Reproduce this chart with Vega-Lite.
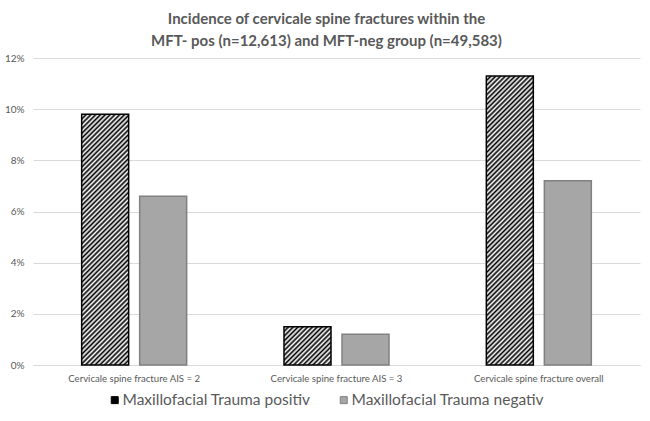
{
  "$schema": "https://vega.github.io/schema/vega-lite/v6.json",
  "autosize": "none",
  "width": 607,
  "height": 307,
  "padding": {"left": 33, "top": 58, "right": 10, "bottom": 56},
  "background": "white",
  "title": {
    "text": ["Incidence of cervicale spine fractures within the", "MFT- pos (n=12,613) and MFT-neg group (n=49,583)"],
    "font": "Lato", "fontSize": 15, "fontWeight": "bold", "color": "#595959",
    "anchor": "middle", "offset": 4, "lineHeight": 22, "dx": -10
  },
  "config": {"view": {"stroke": null}},
  "data": {"values": [
    {"cat": "Cervicale spine fracture AIS = 2", "group": "Maxillofacial Trauma positiv", "value": 0.098},
    {"cat": "Cervicale spine fracture AIS = 2", "group": "Maxillofacial Trauma negativ", "value": 0.066},
    {"cat": "Cervicale spine fracture AIS = 3", "group": "Maxillofacial Trauma positiv", "value": 0.015},
    {"cat": "Cervicale spine fracture AIS = 3", "group": "Maxillofacial Trauma negativ", "value": 0.012},
    {"cat": "Cervicale spine fracture overall", "group": "Maxillofacial Trauma positiv", "value": 0.113},
    {"cat": "Cervicale spine fracture overall", "group": "Maxillofacial Trauma negativ", "value": 0.072}
  ]},
  "mark": {"type": "bar", "strokeWidth": 1.5},
  "encoding": {
    "x": {"field": "cat", "type": "nominal", "sort": null,
      "scale": {"paddingInner": 0, "paddingOuter": 0},
      "axis": {"title": null, "labelAngle": 0, "ticks": false, "domain": true, "domainColor": "#d9d9d9",
        "labelFont": "Lato", "labelFontSize": 9.6, "labelColor": "#595959", "labelPadding": 8}},
    "xOffset": {"field": "group", "type": "nominal", "sort": ["Maxillofacial Trauma positiv", "Maxillofacial Trauma negativ"],
      "scale": {"paddingInner": 0.19, "paddingOuter": 0.839}},
    "y": {"field": "value", "type": "quantitative",
      "scale": {"domain": [0, 0.12], "nice": false},
      "axis": {"title": null, "format": ".0%", "values": [0, 0.02, 0.04, 0.06, 0.08, 0.1, 0.12],
        "domain": false, "ticks": false, "gridColor": "#d9d9d9", "gridWidth": 1,
        "labelFont": "Lato", "labelFontSize": 10, "labelColor": "#595959", "labelPadding": 9}},
    "stroke": {"field": "group", "type": "nominal",
      "scale": {"domain": ["Maxillofacial Trauma positiv", "Maxillofacial Trauma negativ"], "range": ["#000000", "#808080"]},
      "legend": null},
    "fill": {"field": "group", "type": "nominal",
      "scale": {"domain": ["Maxillofacial Trauma positiv", "Maxillofacial Trauma negativ"], "range": ["#000000", "#a6a6a6"]},
      "legend": {"orient": "none", "legendX": 74, "legendY": 334, "direction": "horizontal", "title": null,
        "symbolType": "square", "symbolSize": 49, "symbolStrokeColor": "#7f7f7f", "symbolStrokeWidth": 1,
        "labelFont": "Lato", "labelFontSize": 15.5, "labelColor": "#595959", "labelLimit": 400, "columnPadding": 25, "labelOffset": 0},
      "condition": [
        {"test": "datum.cat === 'Cervicale spine fracture AIS = 2' && datum.group === 'Maxillofacial Trauma positiv'",
         "value": {"gradient": "linear", "x1": 0, "y1": 0, "x2": 0.3468, "y2": 1.8497, "stops": [
{"offset":0,"color":"#000"},{"offset":0.005,"color":"#fff"},{"offset":0.01,"color":"#000"},{"offset":0.015,"color":"#fff"},{"offset":0.02,"color":"#000"},{"offset":0.025,"color":"#fff"},{"offset":0.03,"color":"#000"},{"offset":0.035,"color":"#fff"},{"offset":0.04,"color":"#000"},{"offset":0.045,"color":"#fff"},
{"offset":0.05,"color":"#000"},{"offset":0.055,"color":"#fff"},{"offset":0.06,"color":"#000"},{"offset":0.065,"color":"#fff"},{"offset":0.07,"color":"#000"},{"offset":0.075,"color":"#fff"},{"offset":0.08,"color":"#000"},{"offset":0.085,"color":"#fff"},{"offset":0.09,"color":"#000"},{"offset":0.095,"color":"#fff"},
{"offset":0.1,"color":"#000"},{"offset":0.105,"color":"#fff"},{"offset":0.11,"color":"#000"},{"offset":0.115,"color":"#fff"},{"offset":0.12,"color":"#000"},{"offset":0.125,"color":"#fff"},{"offset":0.13,"color":"#000"},{"offset":0.135,"color":"#fff"},{"offset":0.14,"color":"#000"},{"offset":0.145,"color":"#fff"},
{"offset":0.15,"color":"#000"},{"offset":0.155,"color":"#fff"},{"offset":0.16,"color":"#000"},{"offset":0.165,"color":"#fff"},{"offset":0.17,"color":"#000"},{"offset":0.175,"color":"#fff"},{"offset":0.18,"color":"#000"},{"offset":0.185,"color":"#fff"},{"offset":0.19,"color":"#000"},{"offset":0.195,"color":"#fff"},
{"offset":0.2,"color":"#000"},{"offset":0.205,"color":"#fff"},{"offset":0.21,"color":"#000"},{"offset":0.215,"color":"#fff"},{"offset":0.22,"color":"#000"},{"offset":0.225,"color":"#fff"},{"offset":0.23,"color":"#000"},{"offset":0.235,"color":"#fff"},{"offset":0.24,"color":"#000"},{"offset":0.245,"color":"#fff"},
{"offset":0.25,"color":"#000"},{"offset":0.255,"color":"#fff"},{"offset":0.26,"color":"#000"},{"offset":0.265,"color":"#fff"},{"offset":0.27,"color":"#000"},{"offset":0.275,"color":"#fff"},{"offset":0.28,"color":"#000"},{"offset":0.285,"color":"#fff"},{"offset":0.29,"color":"#000"},{"offset":0.295,"color":"#fff"},
{"offset":0.3,"color":"#000"},{"offset":0.305,"color":"#fff"},{"offset":0.31,"color":"#000"},{"offset":0.315,"color":"#fff"},{"offset":0.32,"color":"#000"},{"offset":0.325,"color":"#fff"},{"offset":0.33,"color":"#000"},{"offset":0.335,"color":"#fff"},{"offset":0.34,"color":"#000"},{"offset":0.345,"color":"#fff"},
{"offset":0.35,"color":"#000"},{"offset":0.355,"color":"#fff"},{"offset":0.36,"color":"#000"},{"offset":0.365,"color":"#fff"},{"offset":0.37,"color":"#000"},{"offset":0.375,"color":"#fff"},{"offset":0.38,"color":"#000"},{"offset":0.385,"color":"#fff"},{"offset":0.39,"color":"#000"},{"offset":0.395,"color":"#fff"},
{"offset":0.4,"color":"#000"},{"offset":0.405,"color":"#fff"},{"offset":0.41,"color":"#000"},{"offset":0.415,"color":"#fff"},{"offset":0.42,"color":"#000"},{"offset":0.425,"color":"#fff"},{"offset":0.43,"color":"#000"},{"offset":0.435,"color":"#fff"},{"offset":0.44,"color":"#000"},{"offset":0.445,"color":"#fff"},
{"offset":0.45,"color":"#000"},{"offset":0.455,"color":"#fff"},{"offset":0.46,"color":"#000"},{"offset":0.465,"color":"#fff"},{"offset":0.47,"color":"#000"},{"offset":0.475,"color":"#fff"},{"offset":0.48,"color":"#000"},{"offset":0.485,"color":"#fff"},{"offset":0.49,"color":"#000"},{"offset":0.495,"color":"#fff"},
{"offset":0.5,"color":"#000"},{"offset":0.505,"color":"#fff"},{"offset":0.51,"color":"#000"},{"offset":0.515,"color":"#fff"},{"offset":0.52,"color":"#000"},{"offset":0.525,"color":"#fff"},{"offset":0.53,"color":"#000"},{"offset":0.535,"color":"#fff"},{"offset":0.54,"color":"#000"},{"offset":0.545,"color":"#fff"},
{"offset":0.55,"color":"#000"},{"offset":0.555,"color":"#fff"},{"offset":0.56,"color":"#000"},{"offset":0.565,"color":"#fff"},{"offset":0.57,"color":"#000"},{"offset":0.575,"color":"#fff"},{"offset":0.58,"color":"#000"},{"offset":0.585,"color":"#fff"},{"offset":0.59,"color":"#000"},{"offset":0.595,"color":"#fff"},
{"offset":0.6,"color":"#000"},{"offset":0.605,"color":"#fff"},{"offset":0.61,"color":"#000"},{"offset":0.615,"color":"#fff"},{"offset":0.62,"color":"#000"},{"offset":0.625,"color":"#fff"}
         ]}},
        {"test": "datum.cat === 'Cervicale spine fracture AIS = 3' && datum.group === 'Maxillofacial Trauma positiv'",
         "value": {"gradient": "linear", "x1": 0, "y1": 0, "x2": 6.128, "y2": 5.003, "stops": [
{"offset":0,"color":"#000"},{"offset":0.005,"color":"#fff"},{"offset":0.01,"color":"#000"},{"offset":0.015,"color":"#fff"},{"offset":0.02,"color":"#000"},{"offset":0.025,"color":"#fff"},{"offset":0.03,"color":"#000"},{"offset":0.035,"color":"#fff"},{"offset":0.04,"color":"#000"},{"offset":0.045,"color":"#fff"},
{"offset":0.05,"color":"#000"},{"offset":0.055,"color":"#fff"},{"offset":0.06,"color":"#000"},{"offset":0.065,"color":"#fff"},{"offset":0.07,"color":"#000"},{"offset":0.075,"color":"#fff"},{"offset":0.08,"color":"#000"},{"offset":0.085,"color":"#fff"},{"offset":0.09,"color":"#000"},{"offset":0.095,"color":"#fff"},
{"offset":0.1,"color":"#000"},{"offset":0.105,"color":"#fff"},{"offset":0.11,"color":"#000"},{"offset":0.115,"color":"#fff"},{"offset":0.12,"color":"#000"},{"offset":0.125,"color":"#fff"},{"offset":0.13,"color":"#000"},{"offset":0.135,"color":"#fff"},{"offset":0.14,"color":"#000"},{"offset":0.145,"color":"#fff"},
{"offset":0.15,"color":"#000"},{"offset":0.155,"color":"#fff"},{"offset":0.16,"color":"#000"},{"offset":0.165,"color":"#fff"},{"offset":0.17,"color":"#000"},{"offset":0.175,"color":"#fff"},{"offset":0.18,"color":"#000"},{"offset":0.185,"color":"#fff"}
         ]}},
        {"test": "datum.cat === 'Cervicale spine fracture overall' && datum.group === 'Maxillofacial Trauma positiv'",
         "value": {"gradient": "linear", "x1": 0, "y1": 0, "x2": 0.263, "y2": 1.6176, "stops": [
{"offset":0,"color":"#000"},{"offset":0.005,"color":"#fff"},{"offset":0.01,"color":"#000"},{"offset":0.015,"color":"#fff"},{"offset":0.02,"color":"#000"},{"offset":0.025,"color":"#fff"},{"offset":0.03,"color":"#000"},{"offset":0.035,"color":"#fff"},{"offset":0.04,"color":"#000"},{"offset":0.045,"color":"#fff"},
{"offset":0.05,"color":"#000"},{"offset":0.055,"color":"#fff"},{"offset":0.06,"color":"#000"},{"offset":0.065,"color":"#fff"},{"offset":0.07,"color":"#000"},{"offset":0.075,"color":"#fff"},{"offset":0.08,"color":"#000"},{"offset":0.085,"color":"#fff"},{"offset":0.09,"color":"#000"},{"offset":0.095,"color":"#fff"},
{"offset":0.1,"color":"#000"},{"offset":0.105,"color":"#fff"},{"offset":0.11,"color":"#000"},{"offset":0.115,"color":"#fff"},{"offset":0.12,"color":"#000"},{"offset":0.125,"color":"#fff"},{"offset":0.13,"color":"#000"},{"offset":0.135,"color":"#fff"},{"offset":0.14,"color":"#000"},{"offset":0.145,"color":"#fff"},
{"offset":0.15,"color":"#000"},{"offset":0.155,"color":"#fff"},{"offset":0.16,"color":"#000"},{"offset":0.165,"color":"#fff"},{"offset":0.17,"color":"#000"},{"offset":0.175,"color":"#fff"},{"offset":0.18,"color":"#000"},{"offset":0.185,"color":"#fff"},{"offset":0.19,"color":"#000"},{"offset":0.195,"color":"#fff"},
{"offset":0.2,"color":"#000"},{"offset":0.205,"color":"#fff"},{"offset":0.21,"color":"#000"},{"offset":0.215,"color":"#fff"},{"offset":0.22,"color":"#000"},{"offset":0.225,"color":"#fff"},{"offset":0.23,"color":"#000"},{"offset":0.235,"color":"#fff"},{"offset":0.24,"color":"#000"},{"offset":0.245,"color":"#fff"},
{"offset":0.25,"color":"#000"},{"offset":0.255,"color":"#fff"},{"offset":0.26,"color":"#000"},{"offset":0.265,"color":"#fff"},{"offset":0.27,"color":"#000"},{"offset":0.275,"color":"#fff"},{"offset":0.28,"color":"#000"},{"offset":0.285,"color":"#fff"},{"offset":0.29,"color":"#000"},{"offset":0.295,"color":"#fff"},
{"offset":0.3,"color":"#000"},{"offset":0.305,"color":"#fff"},{"offset":0.31,"color":"#000"},{"offset":0.315,"color":"#fff"},{"offset":0.32,"color":"#000"},{"offset":0.325,"color":"#fff"},{"offset":0.33,"color":"#000"},{"offset":0.335,"color":"#fff"},{"offset":0.34,"color":"#000"},{"offset":0.345,"color":"#fff"},
{"offset":0.35,"color":"#000"},{"offset":0.355,"color":"#fff"},{"offset":0.36,"color":"#000"},{"offset":0.365,"color":"#fff"},{"offset":0.37,"color":"#000"},{"offset":0.375,"color":"#fff"},{"offset":0.38,"color":"#000"},{"offset":0.385,"color":"#fff"},{"offset":0.39,"color":"#000"},{"offset":0.395,"color":"#fff"},
{"offset":0.4,"color":"#000"},{"offset":0.405,"color":"#fff"},{"offset":0.41,"color":"#000"},{"offset":0.415,"color":"#fff"},{"offset":0.42,"color":"#000"},{"offset":0.425,"color":"#fff"},{"offset":0.43,"color":"#000"},{"offset":0.435,"color":"#fff"},{"offset":0.44,"color":"#000"},{"offset":0.445,"color":"#fff"},
{"offset":0.45,"color":"#000"},{"offset":0.455,"color":"#fff"},{"offset":0.46,"color":"#000"},{"offset":0.465,"color":"#fff"},{"offset":0.47,"color":"#000"},{"offset":0.475,"color":"#fff"},{"offset":0.48,"color":"#000"},{"offset":0.485,"color":"#fff"},{"offset":0.49,"color":"#000"},{"offset":0.495,"color":"#fff"},
{"offset":0.5,"color":"#000"},{"offset":0.505,"color":"#fff"},{"offset":0.51,"color":"#000"},{"offset":0.515,"color":"#fff"},{"offset":0.52,"color":"#000"},{"offset":0.525,"color":"#fff"},{"offset":0.53,"color":"#000"},{"offset":0.535,"color":"#fff"},{"offset":0.54,"color":"#000"},{"offset":0.545,"color":"#fff"},
{"offset":0.55,"color":"#000"},{"offset":0.555,"color":"#fff"},{"offset":0.56,"color":"#000"},{"offset":0.565,"color":"#fff"},{"offset":0.57,"color":"#000"},{"offset":0.575,"color":"#fff"},{"offset":0.58,"color":"#000"},{"offset":0.585,"color":"#fff"},{"offset":0.59,"color":"#000"},{"offset":0.595,"color":"#fff"},
{"offset":0.6,"color":"#000"},{"offset":0.605,"color":"#fff"},{"offset":0.61,"color":"#000"},{"offset":0.615,"color":"#fff"},{"offset":0.62,"color":"#000"},{"offset":0.625,"color":"#fff"},{"offset":0.63,"color":"#000"},{"offset":0.635,"color":"#fff"},{"offset":0.64,"color":"#000"},{"offset":0.645,"color":"#fff"},
{"offset":0.65,"color":"#000"},{"offset":0.655,"color":"#fff"},{"offset":0.66,"color":"#000"},{"offset":0.665,"color":"#fff"},{"offset":0.67,"color":"#000"},{"offset":0.675,"color":"#fff"},{"offset":0.68,"color":"#000"},{"offset":0.685,"color":"#fff"},{"offset":0.69,"color":"#000"},{"offset":0.695,"color":"#fff"},
{"offset":0.7,"color":"#000"},{"offset":0.705,"color":"#fff"}
         ]}}
      ]
    }
  }
}
